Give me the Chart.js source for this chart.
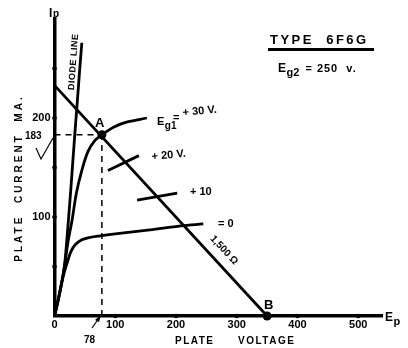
<!DOCTYPE html>
<html>
<head>
<meta charset="utf-8">
<script src="https://cdn.jsdelivr.net/npm/chart.js@4/dist/chart.umd.min.js"></script>
<style>
  html, body { margin: 0; padding: 0; background: #fff; }
  #wrap { width: 408px; height: 348px; }
</style>
</head>
<body>
<div id="wrap"><canvas id="plateChart"></canvas></div>
<script>
// Type 6F6G plate characteristics, Eg2 = 250 v.

// axis ticks
const xTickValues = [0, 100, 200, 300, 400, 500];
const yTickValues = [100, 200];
const xAxisDots = [100, 200, 300, 400, 500];
const yAxisDots = [50, 100, 150, 200, 250];

// curves as [plate volts, plate mA]
const diodeLine = [[0, 0], [6, 16], [12, 34], [17, 54], [21, 82], [25, 113], [29, 146], [33, 180], [37, 212], [41, 245], [45, 276]];
const eg1Plus30 = [[0, 0], [6, 16], [12, 34], [17, 52], [22, 74], [29, 97], [36, 124], [45, 147], [55, 166], [66, 177], [78, 183], [98, 191], [120, 196], [152, 200]];
const eg1Plus20 = [[88, 147], [139, 162]];
const eg1Plus10 = [[136, 117], [202, 124]];
const eg1Zero = [[0, 0], [6, 16], [12, 34], [17, 46], [22, 56], [27, 65], [34, 72], [45, 77], [55, 79], [75, 81], [100, 83], [157, 87], [208, 91], [245, 93]];
const loadLine = [[0, 233], [350, 0]];
const pointA = [78, 183];
const pointB = [350, 0];

const toXY = pts => pts.map(p => ({ x: p[0], y: p[1] }));

function curve(data, width, tension) {
  return {
    data: toXY(data),
    showLine: true,
    borderColor: '#000',
    borderWidth: width,
    pointRadius: 0,
    tension: tension,
    clip: false
  };
}

function dashed(data) {
  return {
    data: toXY(data),
    showLine: true,
    borderColor: '#000',
    borderWidth: 1.5,
    borderDash: [6, 5],
    pointRadius: 0,
    clip: false
  };
}

function dots(data, r) {
  return {
    data: toXY(data),
    showLine: false,
    pointRadius: r,
    pointBackgroundColor: '#000',
    pointBorderWidth: 0,
    clip: false
  };
}

const FONT = "'Liberation Sans', Arial, sans-serif";

function sub(ctx, x, y, main, small, size) {
  ctx.font = 'bold ' + size + 'px ' + FONT;
  ctx.fillText(main, x, y);
  const w = ctx.measureText(main).width;
  ctx.font = 'bold ' + Math.round(size * 0.9) + 'px ' + FONT;
  ctx.fillText(small, x + w + 0.5, y + 4);
  return x + w + 0.5 + ctx.measureText(small).width;
}

const labels = {
  id: 'labels',
  afterDatasetsDraw(chart) {
    const ctx = chart.ctx;
    ctx.save();
    ctx.fillStyle = '#000';
    ctx.strokeStyle = '#000';
    ctx.textBaseline = 'alphabetic';
    ctx.textAlign = 'left';

    // title block
    ctx.font = 'bold 13px ' + FONT;
    ctx.letterSpacing = '2.5px';
    ctx.fillText('TYPE  6F6G', 270, 44);
    ctx.letterSpacing = '0px';
    ctx.fillRect(268, 48, 106, 3);
    let ex = sub(ctx, 278, 72, 'E', 'g2', 12);
    ctx.font = 'bold 11px ' + FONT;
    ctx.letterSpacing = '1px';
    ctx.fillText(' = 250  v.', ex + 2, 72);
    ctx.letterSpacing = '0px';

    // axis names
    ctx.font = 'bold 12px ' + FONT;
    ctx.fillText('I', 49, 17);
    ctx.font = 'bold 10px ' + FONT;
    ctx.fillText('p', 53, 17);
    sub(ctx, 385, 321, 'E', 'p', 12);

    ctx.font = 'bold 10px ' + FONT;
    ctx.letterSpacing = '1.5px';
    ctx.fillText('PLATE', 175, 344);
    ctx.fillText('VOLTAGE', 238, 344);

    ctx.save();
    ctx.translate(22, 178);
    ctx.rotate(-Math.PI / 2);
    ctx.textAlign = 'center';
    ctx.letterSpacing = '3px';
    ctx.fillText('PLATE  CURRENT  MA.', 0, 0);
    ctx.restore();
    ctx.letterSpacing = '0px';

    // diode line label
    ctx.save();
    ctx.translate(76, 62);
    ctx.rotate(-Math.PI / 2 + 0.075);
    ctx.textAlign = 'center';
    ctx.font = 'bold 9px ' + FONT;
    ctx.letterSpacing = '0.5px';
    ctx.fillText('DIODE LINE', 0, 0);
    ctx.restore();

    // load line label
    ctx.save();
    ctx.translate(222, 252);
    ctx.rotate(0.82);
    ctx.textAlign = 'center';
    ctx.font = 'bold 10px ' + FONT;
    ctx.fillText('1,500 \u03A9', 0, 0);
    ctx.restore();

    // points A and B
    ctx.font = 'bold 13px ' + FONT;
    ctx.fillText('A', 95, 127);
    ctx.fillText('B', 264, 309);

    // grid voltage labels
    sub(ctx, 157, 125, 'E', 'g1', 11);
    ctx.font = 'bold 11px ' + FONT;
    ctx.fillText('=', 173, 121);
    ctx.save();
    ctx.translate(183, 116);
    ctx.rotate(-0.1);
    ctx.fillText('+ 30 V.', 0, 0);
    ctx.restore();
    ctx.save();
    ctx.translate(152, 160);
    ctx.rotate(-0.1);
    ctx.fillText('+ 20 V.', 0, 0);
    ctx.restore();
    ctx.fillText('+ 10', 190, 195);
    ctx.fillText('= 0', 218, 227);

    // operating point notes
    ctx.font = 'bold 10px ' + FONT;
    ctx.fillText('183', 25, 139);
    ctx.fillText('78', 84, 343);
    ctx.lineWidth = 1.2;
    ctx.beginPath();
    ctx.moveTo(36, 148);
    ctx.lineTo(41, 159);
    ctx.lineTo(53, 138);
    ctx.stroke();
    ctx.beginPath();
    ctx.moveTo(92, 328);
    ctx.lineTo(99, 318);
    ctx.stroke();
    ctx.beginPath();
    ctx.moveTo(101, 315);
    ctx.lineTo(95, 320);
    ctx.lineTo(99, 322);
    ctx.closePath();
    ctx.fill();
    ctx.restore();
  }
};

const ctxEl = document.getElementById('plateChart');

new Chart(ctxEl, {
  type: 'scatter',
  data: {
    datasets: [
      curve(loadLine, 2.8, 0),
      curve(diodeLine, 2.8, 0.3),
      curve(eg1Plus30, 2.8, 0.35),
      curve(eg1Plus20, 2.8, 0),
      curve(eg1Plus10, 2.8, 0),
      curve(eg1Zero, 2.8, 0.35),
      dashed([[0, pointA[1]], pointA]),
      dashed([[pointA[0], 0], pointA]),
      dots(yAxisDots.map(v => [0, v]), 2.3),
      dots(xAxisDots.map(v => [v, 0]), 2.3),
      dots([pointA, pointB], 4.5)
    ]
  },
  options: {
    responsive: true,
    maintainAspectRatio: false,
    animation: false,
    devicePixelRatio: 1,
    layout: {
      padding: { left: 0, right: 25.5, top: 19, bottom: 0 }
    },
    scales: {
      x: {
        type: 'linear',
        min: 0,
        max: 540,
        afterBuildTicks: s => { s.ticks = xTickValues.map(v => ({ value: v })); },
        afterFit: s => { s.height = 32; },
        grid: { display: false, drawTicks: false },
        border: { display: true, color: '#000', width: 3.5 },
        ticks: {
          color: '#000',
          padding: 2,
          maxRotation: 0,
          autoSkip: false,
          font: { family: FONT, size: 11, weight: 'bold' }
        }
      },
      y: {
        type: 'linear',
        min: 0,
        max: 300,
        afterBuildTicks: s => { s.ticks = yTickValues.map(v => ({ value: v })); },
        afterFit: s => { s.width = 54.5; },
        grid: { display: false, drawTicks: false },
        border: { display: true, color: '#000', width: 3.5 },
        ticks: {
          color: '#000',
          padding: 4,
          autoSkip: false,
          font: { family: FONT, size: 11, weight: 'bold' }
        }
      }
    },
    plugins: {
      legend: { display: false },
      tooltip: { enabled: false }
    }
  },
  plugins: [labels]
});
</script>
</body>
</html>
